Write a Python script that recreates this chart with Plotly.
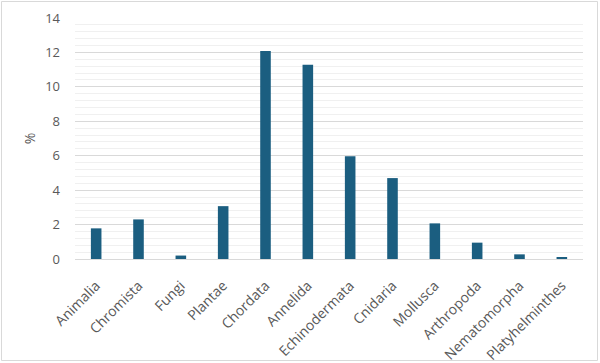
import plotly.graph_objects as go

categories = ["Animalia", "Chromista", "Fungi", "Plantae", "Chordata", "Annelida",
              "Echinodermata", "Cnidaria", "Mollusca", "Arthropoda", "Nematomorpha",
              "Platyhelminthes"]
values = [1.78, 2.3, 0.2, 3.07, 12.08, 11.28, 5.97, 4.7, 2.07, 0.95, 0.27, 0.08]
y_ticks = [0, 2, 4, 6, 8, 10, 12, 14]

W, H = 600, 363
ml, mr, mt, mb = 75, 17, 18, 104
pw, ph = W - ml - mr, H - mt - mb

fig = go.Figure(go.Bar(x=categories, y=values, marker_color="#1b5e80",
                       marker_line_width=0, hoverinfo="skip"))

def px_to_paper_x(px):
    return (px - ml) / pw

def px_to_paper_y(py):
    return (H - mb - py) / ph

fig.add_shape(type="rect", xref="paper", yref="paper",
              x0=px_to_paper_x(1.5), x1=px_to_paper_x(597.5),
              y0=px_to_paper_y(360.5), y1=px_to_paper_y(1.5),
              line=dict(color="#d9d9d9", width=1), layer="below")

fig.update_layout(
    width=W, height=H,
    margin=dict(l=ml, r=mr, t=mt, b=mb, autoexpand=False),
    paper_bgcolor="white", plot_bgcolor="white",
    bargap=0.75,
    showlegend=False,
    font=dict(family="Open Sans, Liberation Sans, sans-serif", color="#595959", size=13),
    xaxis=dict(tickangle=-45, showgrid=False, showline=True, linecolor="#d9d9d9",
               ticks="", automargin=False, ticklabelstandoff=12,
               tickfont=dict(size=14, color="#595959")),
    yaxis=dict(range=[0, 14], tickvals=y_ticks, showgrid=True, gridcolor="#d9d9d9",
               gridwidth=1, zeroline=False, ticks="", automargin=False,
               ticklabelstandoff=14,
               minor=dict(dtick=0.4, showgrid=True, gridcolor="#f0f0f0", gridwidth=1),
               tickfont=dict(size=13, color="#595959"),
               title=dict(text="%", font=dict(size=14, color="#595959"), standoff=6)),
)

fig.write_html("out.html", config={"displayModeBar": False},
               post_script="document.body.style.margin='0';document.body.style.overflow='hidden';")
